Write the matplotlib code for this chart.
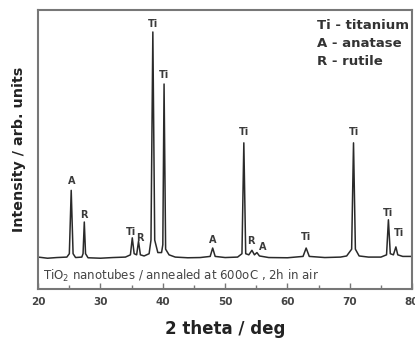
#!/usr/bin/env python3
"""XRD pattern of annealed TiO2 nanotubes"""

import matplotlib
matplotlib.use("Agg")
import matplotlib.pyplot as plt
from matplotlib.ticker import MultipleLocator

# Diffractogram trace (2 theta in deg, intensity in arb. units)
two_theta = [20.0, 21.5, 23.0, 24.6, 25.0, 25.3, 25.6, 26.0, 27.0, 27.2,
             27.4, 27.6, 28.0, 30.0, 32.0, 34.0, 34.8, 35.1, 35.4, 35.8,
             36.1, 36.4, 37.0, 37.8, 38.1, 38.4, 38.7, 39.2, 39.8, 40.0,
             40.2, 40.45, 41.0, 42.0, 44.0, 46.0, 47.6, 48.0, 48.4, 50.0,
             52.0, 52.7, 53.0, 53.3, 53.8, 54.3, 54.7, 55.1, 55.5, 57.0,
             60.0, 62.5, 63.0, 63.5, 66.0, 68.5, 69.5, 70.3, 70.6, 70.9,
             71.5, 73.0, 75.0, 75.9, 76.2, 76.5, 77.0, 77.4, 77.7, 78.5,
             80.0]
intensity = [0.5, 0.0, 0.3, 0.5, 2.0, 30.0, 2.0, 0.3, 0.5, 2.0,
             16.0, 2.0, 0.2, 0.0, 0.3, 0.5, 1.5, 9.0, 2.0, 1.5,
             7.5, 1.5, 1.0, 2.0, 8.0, 100.0, 8.0, 2.5, 2.5, 6.0,
             77.0, 4.0, 1.5, 0.5, 0.2, 0.3, 0.8, 4.5, 0.8, 0.3,
             0.5, 2.0, 51.0, 2.0, 1.5, 3.5, 1.5, 2.5, 1.0, 0.3,
             0.2, 0.8, 4.5, 0.8, 0.3, 0.5, 1.0, 4.0, 51.0, 4.0,
             1.0, 0.5, 0.5, 1.5, 17.0, 2.0, 1.5, 5.0, 1.5, 0.8,
             0.8]

# Phase labels over the peaks
label_x = [25.3, 27.4, 34.9, 36.3, 38.4, 40.2, 48.0, 53.0, 54.2, 56.0,
           63.0, 70.6, 76.2, 77.9]
label_y = [34, 19, 11.5, 9, 103.5, 81, 8, 56, 7.5, 5, 9.5, 56, 20, 11]
label_text = ["A", "R", "Ti", "R", "Ti", "Ti", "A", "Ti", "R", "A",
              "Ti", "Ti", "Ti", "Ti"]

legend_lines = ["Ti - titanium", "A - anatase", "R - rutile"]

plt.rcParams["font.family"] = ["DejaVu Sans"]

fig = plt.figure(figsize=(4.15, 3.42), dpi=100)
ax = fig.add_axes([0.092, 0.155, 0.901, 0.815])

ax.plot(two_theta, intensity, color="#2a2a2a", lw=1.1)

for x, y, t in zip(label_x, label_y, label_text):
    ax.text(x, y, t, ha="center", va="center", fontsize=7,
            fontweight="bold", color="#3a3a3a")

for i, line in enumerate(legend_lines):
    ax.text(0.745, 0.945 - i * 0.064, line, transform=ax.transAxes,
            ha="left", va="center", fontsize=9.5, fontweight="bold",
            color="#333333")

ax.text(0.012, 0.045, "TiO$_2$ nanotubes / annealed at 600oC , 2h in air",
        transform=ax.transAxes, ha="left", va="center", fontsize=8.5,
        color="#444444")

ax.set_xlim(20, 80)
ax.set_ylim(-13.6, 109.6)
ax.xaxis.set_major_locator(MultipleLocator(10))
ax.xaxis.set_minor_locator(MultipleLocator(5))
ax.tick_params(axis="x", which="both", direction="in", colors="#777777",
               labelcolor="#444444", labelsize=7.5, pad=6)
ax.tick_params(axis="x", which="major", length=4, width=1)
ax.tick_params(axis="x", which="minor", length=3, width=1)
for lab in ax.get_xticklabels():
    lab.set_fontweight("bold")
ax.set_yticks([])

for side in ax.spines.values():
    side.set_color("#777777")
    side.set_linewidth(1.5)

ax.set_xlabel("2 theta / deg", fontsize=12, fontweight="bold",
              color="#222222", labelpad=9)
ax.set_ylabel("Intensity / arb. units", fontsize=10.3, fontweight="bold",
              color="#222222", labelpad=9)

fig.savefig("out.png", dpi=100)
